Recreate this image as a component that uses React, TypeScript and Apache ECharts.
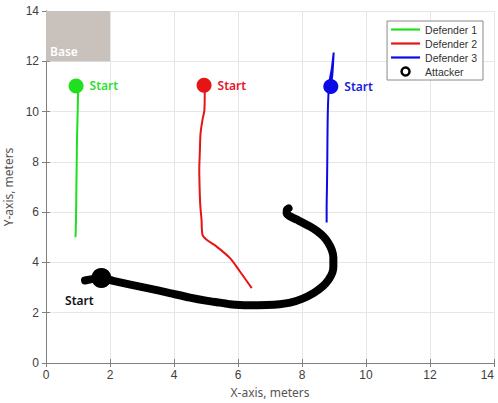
import React, { useEffect, useRef } from "react";
import * as echarts from "echarts";

const xTicks = [0, 2, 4, 6, 8, 10, 12, 14];
const yTicks = [0, 2, 4, 6, 8, 10, 12, 14];

const defender1: [number, number][] = [
  [0.95, 11.02], [1.0, 10.8], [0.99, 10.0], [0.97, 9.0], [0.96, 8.0],
  [0.95, 7.0], [0.94, 6.0], [0.93, 5.3], [0.92, 5.0],
];
const defender2: [number, number][] = [
  [4.94, 11.05], [4.96, 10.7], [4.95, 10.06], [4.89, 9.67], [4.83, 9.14],
  [4.81, 8.48], [4.79, 7.68], [4.8, 7.0], [4.82, 6.3], [4.86, 5.7],
  [4.89, 5.1], [5.02, 4.9], [5.33, 4.63], [5.75, 4.17], [6.06, 3.64],
  [6.25, 3.3], [6.43, 2.98],
];
const defender3: [number, number][] = [
  [8.9, 11.0], [8.95, 11.5], [8.99, 12.35], [8.93, 11.7], [8.86, 11.2],
  [8.82, 10.5], [8.8, 9.5], [8.79, 8.0], [8.78, 7.0], [8.77, 6.2], [8.77, 5.59],
];
const attacker: [number, number][] = [
  [1.22, 3.28], [1.73, 3.38], [2.1, 3.27], [2.6, 3.13],
  [3.2, 2.97], [3.87, 2.78], [4.5, 2.6], [5.0, 2.48], [5.44, 2.4],
  [5.75, 2.34], [6.3, 2.3], [6.9, 2.31], [7.3, 2.34], [7.63, 2.4],
  [8.0, 2.55], [8.36, 2.78], [8.65, 3.05], [8.83, 3.31], [8.95, 3.6],
  [8.98, 3.84], [8.98, 4.2], [8.93, 4.5], [8.82, 4.78], [8.67, 5.03],
  [8.47, 5.25], [8.25, 5.43], [7.84, 5.7], [7.6, 5.85], [7.52, 5.97],
  [7.53, 6.1], [7.58, 6.15],
];
const startPoints = {
  defender1: [0.94, 11.02],
  defender2: [4.94, 11.05],
  defender3: [8.9, 11.0],
  attacker: [1.73, 3.38],
};
const baseArea: [[number, number], [number, number]] = [[0, 12], [2, 14]];

const seriesNames = ["Defender 1", "Defender 2", "Defender 3", "Attacker"];
const colors = ["#1fe01f", "#e61414", "#0a0ae6", "#000000"];
const labelColors = ["#2ee02e", "#e8102c", "#1a1ae0", "#111111"];

export default function App() {
  const ref = useRef<HTMLDivElement>(null);
  useEffect(() => {
    if (!ref.current) return;
    const chart = echarts.init(ref.current, undefined, { renderer: "svg" });
    const axisColor = "#808080";
    const labelFont = "Liberation Sans";
    const nameFont = "Noto Sans";
    const lineIcon = "path://M0,0H29V2.2H0Z";
    const startLabel = (color: string) => ({
      show: true,
      formatter: "Start",
      position: "right" as const,
      distance: 6,
      color,
      fontFamily: nameFont,
      fontSize: 12,
      fontWeight: 600,
    });
    chart.setOption({
      animation: false,
      backgroundColor: "#ffffff",
      grid: { left: 46, right: 4, top: 11, bottom: 40, containLabel: false, outerBoundsMode: "none" },
      legend: {
        orient: "vertical",
        right: 15,
        top: 21,
        itemWidth: 29,
        itemHeight: 8,
        itemGap: 3,
        padding: [3, 6, 3, 4],
        borderColor: "#8a8a8a",
        borderWidth: 1,
        borderRadius: 0,
        backgroundColor: "#ffffff",
        symbolKeepAspect: true,
        textStyle: { fontFamily: labelFont, fontSize: 10.5, color: "#333333" },
        data: [
          { name: seriesNames[0], icon: lineIcon, itemStyle: { color: colors[0] } },
          { name: seriesNames[1], icon: lineIcon, itemStyle: { color: colors[1] } },
          { name: seriesNames[2], icon: lineIcon, itemStyle: { color: colors[2] } },
          {
            name: seriesNames[3],
            icon: "circle",
            itemStyle: { color: "#ffffff", borderColor: "#000000", borderWidth: 2.5 },
          },
        ],
      },
      xAxis: [
        {
          type: "value",
          min: xTicks[0],
          max: xTicks[xTicks.length - 1],
          interval: 2,
          position: "bottom",
          name: "X-axis, meters",
          nameLocation: "middle",
          nameGap: 23,
          nameTextStyle: { fontFamily: nameFont, fontSize: 12, color: "#555555" },
          axisLine: { show: true, lineStyle: { color: axisColor, width: 1 } },
          axisTick: { show: true, inside: true, length: 4, lineStyle: { color: axisColor } },
          axisLabel: {
            fontFamily: labelFont,
            fontSize: 12,
            color: "#404040",
            margin: 6,
            alignMaxLabel: "right",
          },
          splitLine: { show: true, lineStyle: { color: "#e6e6e6", width: 1 } },
        },
        {
          type: "value",
          min: xTicks[0],
          max: xTicks[xTicks.length - 1],
          interval: 2,
          position: "top",
          axisLine: { show: true, lineStyle: { color: axisColor, width: 1 } },
          axisTick: { show: true, inside: true, length: 4, lineStyle: { color: axisColor } },
          axisLabel: { show: false },
          splitLine: { show: false },
        },
      ],
      yAxis: [
        {
          type: "value",
          min: yTicks[0],
          max: yTicks[yTicks.length - 1],
          interval: 2,
          position: "left",
          name: "Y-axis, meters",
          nameLocation: "middle",
          nameGap: 26,
          nameTextStyle: { fontFamily: nameFont, fontSize: 12, color: "#555555" },
          axisLine: { show: true, lineStyle: { color: axisColor, width: 1 } },
          axisTick: { show: true, inside: true, length: 4, lineStyle: { color: axisColor } },
          axisLabel: { fontFamily: labelFont, fontSize: 12, color: "#404040", margin: 7 },
          splitLine: { show: true, lineStyle: { color: "#e6e6e6", width: 1 } },
        },
        {
          type: "value",
          min: yTicks[0],
          max: yTicks[yTicks.length - 1],
          interval: 2,
          position: "right",
          axisLine: { show: true, lineStyle: { color: axisColor, width: 1 } },
          axisTick: { show: true, inside: true, length: 4, lineStyle: { color: axisColor } },
          axisLabel: { show: false },
          splitLine: { show: false },
        },
      ],
      series: [
        {
          name: seriesNames[0],
          type: "line",
          data: defender1,
          symbol: "none",
          smooth: 0.3,
          lineStyle: { color: colors[0], width: 2 },
          itemStyle: { color: colors[0] },
          z: 3,
          markArea: {
            silent: true,
            itemStyle: { color: "#c9c1bb", opacity: 1 },
            label: {
              show: true,
              position: "insideBottomLeft",
              distance: 4,
              color: "#ffffff",
              fontFamily: nameFont,
              fontSize: 12,
              fontWeight: 600,
            },
            data: [[{ name: "Base", coord: baseArea[0] }, { coord: baseArea[1] }]],
          },
        },
        {
          name: seriesNames[1],
          type: "line",
          data: defender2,
          symbol: "none",
          smooth: 0.3,
          lineStyle: { color: colors[1], width: 2 },
          itemStyle: { color: colors[1] },
          z: 3,
        },
        {
          name: seriesNames[2],
          type: "line",
          data: defender3,
          symbol: "none",
          smooth: 0.2,
          lineStyle: { color: colors[2], width: 2 },
          itemStyle: { color: colors[2] },
          z: 3,
        },
        {
          name: seriesNames[3],
          type: "line",
          data: attacker,
          symbol: "none",
          smooth: 0.25,
          lineStyle: { color: "#000000", width: 8, cap: "round", join: "round" },
          itemStyle: { color: "#000000" },
          z: 4,
        },
        {
          name: "starts",
          type: "scatter",
          symbol: "circle",
          z: 5,
          itemStyle: { opacity: 1 },
          data: [
            { value: startPoints.defender1, symbolSize: 15, itemStyle: { color: colors[0], opacity: 1 }, label: startLabel(labelColors[0]) },
            { value: startPoints.defender2, symbolSize: 15, itemStyle: { color: colors[1], opacity: 1 }, label: startLabel(labelColors[1]) },
            { value: startPoints.defender3, symbolSize: 15, itemStyle: { color: colors[2], opacity: 1 }, label: startLabel(labelColors[2]) },
            {
              value: startPoints.attacker,
              symbolSize: 20,
              itemStyle: { color: "#000000", opacity: 1 },
              label: {
                ...startLabel(labelColors[3]),
                position: "inside",
                offset: [-22, 22],
              },
            },
          ],
        },
      ],
    });
    return () => chart.dispose();
  }, []);
  return (
    <div
      ref={ref}
      style={{ position: "fixed", left: 0, top: 0, width: 498, height: 403, background: "#fff" }}
    />
  );
}
